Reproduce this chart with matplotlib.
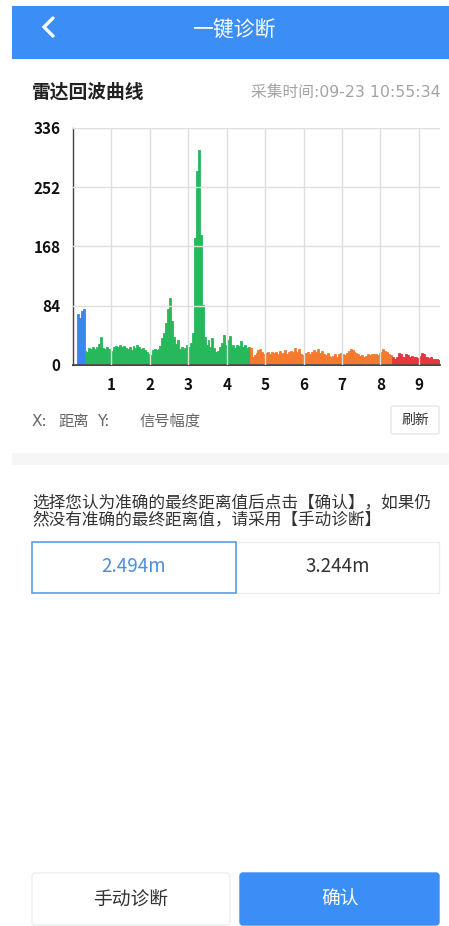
import numpy as np
import matplotlib
matplotlib.use('Agg')
import matplotlib.pyplot as plt
from matplotlib.patches import Rectangle, FancyBboxPatch

plt.rcParams['font.family'] = ['Noto Sans CJK SC', 'DejaVu Sans']

# radar echo data, one value every 0.05 m starting at 0.10 m
step = 0.05
start = 0.10
amp = [
    73, 67, 76, 80,                                              # 0.10 - 0.25
    20, 18, 24, 22, 26, 23, 25, 30, 40, 24,                      # 0.30 - 0.75
    22, 25, 23, 21, 20, 26, 27, 25, 28, 26,                      # 0.80 - 1.25
    27, 24, 22, 25, 21, 27, 24, 28, 26, 22,                      # 1.30 - 1.75
    24, 21, 18, 16, 14, 21, 22, 21, 23, 27,                      # 1.80 - 2.25
    38, 46, 60, 80, 95, 62, 40, 30, 36, 22,                      # 2.30 - 2.75
    26, 21, 24, 28, 26, 31, 45, 180, 275, 305,                   # 2.80 - 3.25
    185, 85, 40, 28, 36, 26, 38, 24, 19, 20,                     # 3.30 - 3.75
    26, 31, 42, 28, 35, 41, 26, 28, 24, 29,                      # 3.80 - 4.25
    27, 34, 26, 28, 24, 26, 24,                                  # 4.30 - 4.55
    12, 14, 17, 21, 22, 19, 15, 17, 18, 15,                      # 4.60 - 5.05
    19, 17, 19, 16, 20, 15, 17, 21, 16, 18,                      # 5.10 - 5.55
    20, 19, 24, 18, 23, 16, 14, 16, 17, 18,                      # 5.60 - 6.05
    16, 19, 21, 18, 23, 17, 20, 16, 14, 17,                      # 6.10 - 6.55
    13, 12, 13, 15, 12, 16, 17, 15, 14, 17,                      # 6.60 - 7.05
    20, 23, 21, 19, 17, 16, 13, 14, 12, 13,                      # 7.10 - 7.55
    15, 14, 16, 15, 16, 14, 17, 18, 22, 20,                      # 7.60 - 8.05
    18, 16, 14, 12,                                              # 8.10 - 8.25
    9, 12, 17, 16, 11, 12, 15, 14, 12, 13,                       # 8.30 - 8.75
    11, 12, 10, 13, 17, 15, 11, 12, 10, 11,                      # 8.80 - 9.25
    9, 8, 9, 7,                                                  # 9.30 - 9.45
]
# colour zones (distance where each zone ends)
zone_ends = [0.30, 4.60, 8.30, 99]
zone_colors = ['#3a86ee', '#27b85c', '#f47a2e', '#e6363b']

y_ticks = [0, 84, 168, 252, 336]
x_ticks = [1, 2, 3, 4, 5, 6, 7, 8, 9]

title = '一键诊断'
chart_title = '雷达回波曲线'
time_text = '采集时间:09-23 10:55:34'
axis_text = ['X:', '距离', 'Y:', '信号幅度']
refresh_text = '刷新'
hint_lines = ['选择您认为准确的最终距离值后点击【确认】，如果仍',
              '然没有准确的最终距离值，请采用【手动诊断】']
options = ['2.494m', '3.244m']
buttons = ['手动诊断', '确认']

W, H = 449, 926
fig = plt.figure(figsize=(W / 100, H / 100), dpi=100)

# ui layer in pixel coordinates
ui = fig.add_axes([0, 0, 1, 1])
ui.set_xlim(0, W)
ui.set_ylim(H, 0)
ui.axis('off')

BLUE = '#3a8ef5'
ui.add_patch(Rectangle((12, 6), W - 12, 53, color=BLUE, lw=0))
ui.plot([53, 44, 53], [18, 27, 36], color='white', lw=2.4, solid_capstyle='round',
        solid_joinstyle='miter')
ui.text(234, 31, title, color='white', fontsize=15, ha='center', va='center')

ui.text(32, 92, chart_title, fontsize=13.5, fontweight='bold', color='#222222',
        ha='left', va='center')
ui.text(441, 92, time_text, fontsize=11.3, color='#a3a3a3', ha='right', va='center',
        family=['DejaVu Sans', 'Noto Sans CJK SC'])

for txt, px in zip(axis_text, [32, 58, 97, 140]):
    ui.text(px, 421, txt, fontsize=11, color='#666666', ha='left', va='center',
            family=['DejaVu Sans', 'Noto Sans CJK SC'])
ui.add_patch(FancyBboxPatch((391, 406), 48, 28, boxstyle='round,pad=0,rounding_size=2',
                            fc='white', ec='#e6e6e6', lw=1))
ui.text(415, 420, refresh_text, fontsize=10, color='#333333', ha='center', va='center')

ui.add_patch(Rectangle((12, 453), W - 12, 12, color='#f5f6f8', lw=0))

for i, line in enumerate(hint_lines):
    ui.text(32, 503 + i * 18, line, fontsize=12, color='#333333', ha='left', va='center')

ui.add_patch(Rectangle((236, 542), 203, 51, fc='white', ec='#ececec', lw=1))
ui.add_patch(Rectangle((32, 542), 204, 51, fc='white', ec='#5a9fe0', lw=1.2))
ui.text(134, 567, options[0], fontsize=13.5, color='#4a90dc', ha='center', va='center')
ui.text(338, 567, options[1], fontsize=13.5, color='#333333', ha='center', va='center')

ui.add_patch(FancyBboxPatch((32, 873), 198, 52, boxstyle='round,pad=0,rounding_size=3',
                            fc='white', ec='#eeeeee', lw=1))
ui.add_patch(FancyBboxPatch((240, 873), 199, 52, boxstyle='round,pad=0,rounding_size=3',
                            fc=BLUE, ec=BLUE, lw=1))
ui.text(131, 899, buttons[0], fontsize=13.5, color='#333333', ha='center', va='center')
ui.text(340, 899, buttons[1], fontsize=13.5, color='white', ha='center', va='center')

# chart
left, right, top, bottom = 73, 440, 128, 365
ax = fig.add_axes([left / W, 1 - bottom / H, (right - left) / W, (bottom - top) / H])
xs = start + step * np.arange(len(amp))
colors = []
for x in xs:
    for end, c in zip(zone_ends, zone_colors):
        if x < end - 1e-9:
            colors.append(c)
            break
ax.bar(xs, amp, width=step, align='edge', color=colors, edgecolor=colors, lw=0.6, zorder=1)
ax.set_xlim(0, 9.55)
ax.set_ylim(0, 336)
ax.set_xticks(x_ticks)
ax.set_yticks(y_ticks)
ax.set_xticklabels([str(t) for t in x_ticks], fontweight='bold', fontsize=11, color='#111111')
ax.set_yticklabels([str(t) for t in y_ticks], fontweight='bold', fontsize=11, color='#111111')
ax.tick_params(length=0, pad=9)
ax.grid(True, color='#dedede', lw=1)
ax.set_axisbelow(False)
for s in ['top', 'right']:
    ax.spines[s].set_visible(False)
ax.spines['left'].set_color('#444444')
ax.spines['bottom'].set_color('#222222')
ax.spines['left'].set_linewidth(1)
ax.spines['bottom'].set_linewidth(1.2)
ax.patch.set_alpha(0)

fig.savefig('out.png', dpi=100)
